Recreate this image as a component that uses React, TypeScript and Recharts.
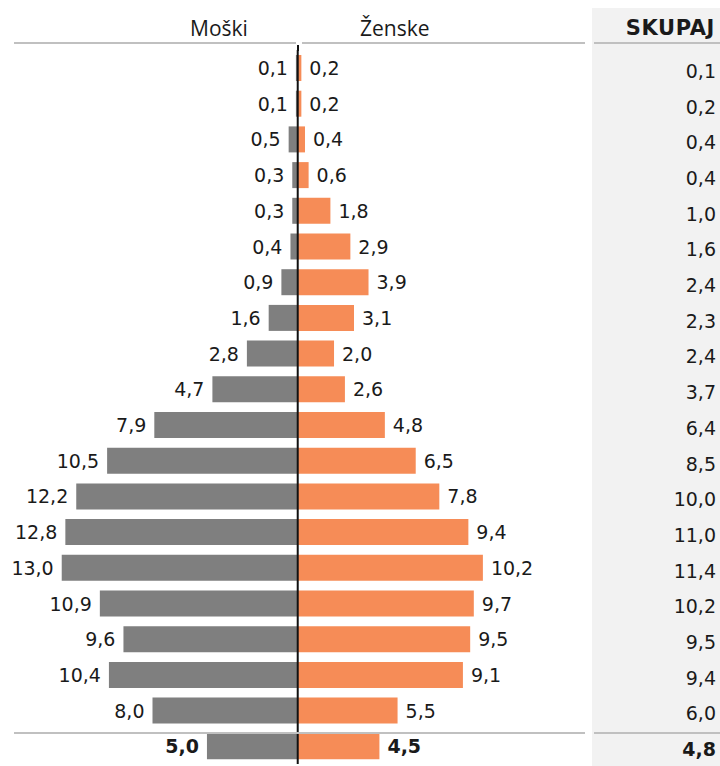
import { BarChart, Bar, XAxis, YAxis, ReferenceLine, LabelList } from 'recharts';

// rows top to bottom, last row is the total (SKUPAJ)
const rowKeys = [
  'r1', 'r2', 'r3', 'r4', 'r5', 'r6', 'r7', 'r8', 'r9', 'r10',
  'r11', 'r12', 'r13', 'r14', 'r15', 'r16', 'r17', 'r18', 'r19', 'total',
];
const maleValues = [0.1, 0.1, 0.5, 0.3, 0.3, 0.4, 0.9, 1.6, 2.8, 4.7, 7.9, 10.5, 12.2, 12.8, 13.0, 10.9, 9.6, 10.4, 8.0, 5.0];
const femaleValues = [0.2, 0.2, 0.4, 0.6, 1.8, 2.9, 3.9, 3.1, 2.0, 2.6, 4.8, 6.5, 7.8, 9.4, 10.2, 9.7, 9.5, 9.1, 5.5, 4.5];
const totalValues = [0.1, 0.2, 0.4, 0.4, 1.0, 1.6, 2.4, 2.3, 2.4, 3.7, 6.4, 8.5, 10.0, 11.0, 11.4, 10.2, 9.5, 9.4, 6.0, 4.8];

const MALE_COLOR = '#7f7f7f';
const FEMALE_COLOR = '#f68c57';
const TEXT = '#1a1a1a';
const VALUE_FONT = '"DejaVu Sans", Verdana, sans-serif';
const HEAD_FONT = '"Open Sans", "Noto Sans", sans-serif';
const TOTAL_INDEX = rowKeys.length - 1;

const data = rowKeys.map((key, i) => ({
  key,
  male: -maleValues[i],
  female: femaleValues[i],
}));

const fmt = (v: number) => Math.abs(v).toFixed(1).replace('.', ',');

function SideLabel(props: any, side: 'left' | 'right') {
  const { x, y, width, height, value, index } = props;
  const x0 = Math.min(x, x + width);
  const x1 = Math.max(x, x + width);
  const bold = index === TOTAL_INDEX;
  return (
    <text
      x={side === 'left' ? x0 - 8 : x1 + 8}
      y={y + height / 2}
      textAnchor={side === 'left' ? 'end' : 'start'}
      dominantBaseline="central"
      fontFamily={VALUE_FONT}
      fontSize={19}
      fontWeight={bold ? 700 : 400}
      fill={TEXT}
    >
      {fmt(value)}
    </text>
  );
}

function TotalTick(props: any) {
  const { x, y, payload } = props;
  const i = payload.index;
  return (
    <text
      x={x + 118}
      y={y + 3}
      textAnchor="end"
      dominantBaseline="central"
      fontFamily={VALUE_FONT}
      fontSize={19}
      fontWeight={i === TOTAL_INDEX ? 700 : 400}
      fill={TEXT}
    >
      {fmt(totalValues[i])}
    </text>
  );
}

const line = (left: number, width: number, top: number) => (
  <div style={{ position: 'absolute', left, top, width, height: 2, background: '#c0c0c0' }} />
);

export default function App() {
  return (
    <div style={{ position: 'absolute', left: 0, top: 0, width: 720, height: 766, overflow: 'hidden', background: '#fff' }}>
      <div style={{ position: 'absolute', left: 592, top: 8, width: 128, height: 758, background: '#f2f2f2' }} />
      <div style={{ position: 'absolute', left: 0, top: 0 }}>
        <BarChart
          width={720}
          height={766}
          data={data}
          layout="vertical"
          stackOffset="sign"
          margin={{ top: 50, right: 0, bottom: 2, left: 0 }}
        >
          <XAxis type="number" domain={[-16.4, 16.1]} hide />
          <YAxis
            type="category"
            dataKey="key"
            orientation="right"
            width={130}
            axisLine={false}
            tickLine={false}
            tick={<TotalTick />}
            interval={0}
          />
          <Bar dataKey="male" stackId="s" fill={MALE_COLOR} barSize={26} isAnimationActive={false}>
            <LabelList dataKey="male" content={(p: any) => SideLabel(p, 'left')} />
          </Bar>
          <Bar dataKey="female" stackId="s" fill={FEMALE_COLOR} barSize={26} isAnimationActive={false}>
            <LabelList dataKey="female" content={(p: any) => SideLabel(p, 'right')} />
          </Bar>
          <ReferenceLine x={0} stroke="#111" strokeWidth={2} />
        </BarChart>
      </div>
      <div style={{ position: 'absolute', left: 190, top: 13, fontFamily: HEAD_FONT, fontSize: 21, color: TEXT, lineHeight: '30px' }}>Moški</div>
      <div style={{ position: 'absolute', left: 360, top: 13, fontFamily: HEAD_FONT, fontSize: 21, color: TEXT, lineHeight: '30px' }}>Ženske</div>
      <div style={{ position: 'absolute', right: 5, top: 13, fontFamily: VALUE_FONT, fontSize: 21, fontWeight: 700, color: TEXT, lineHeight: '30px', letterSpacing: 0.6 }}>SKUPAJ</div>
      {line(14, 282, 42)}
      {line(302, 283, 42)}
      {line(594, 126, 42)}
      {line(14, 571, 732)}
      {line(594, 126, 732)}
      <div style={{ position: 'absolute', left: 297, top: 45, width: 2, height: 6, background: '#111' }} />
    </div>
  );
}
